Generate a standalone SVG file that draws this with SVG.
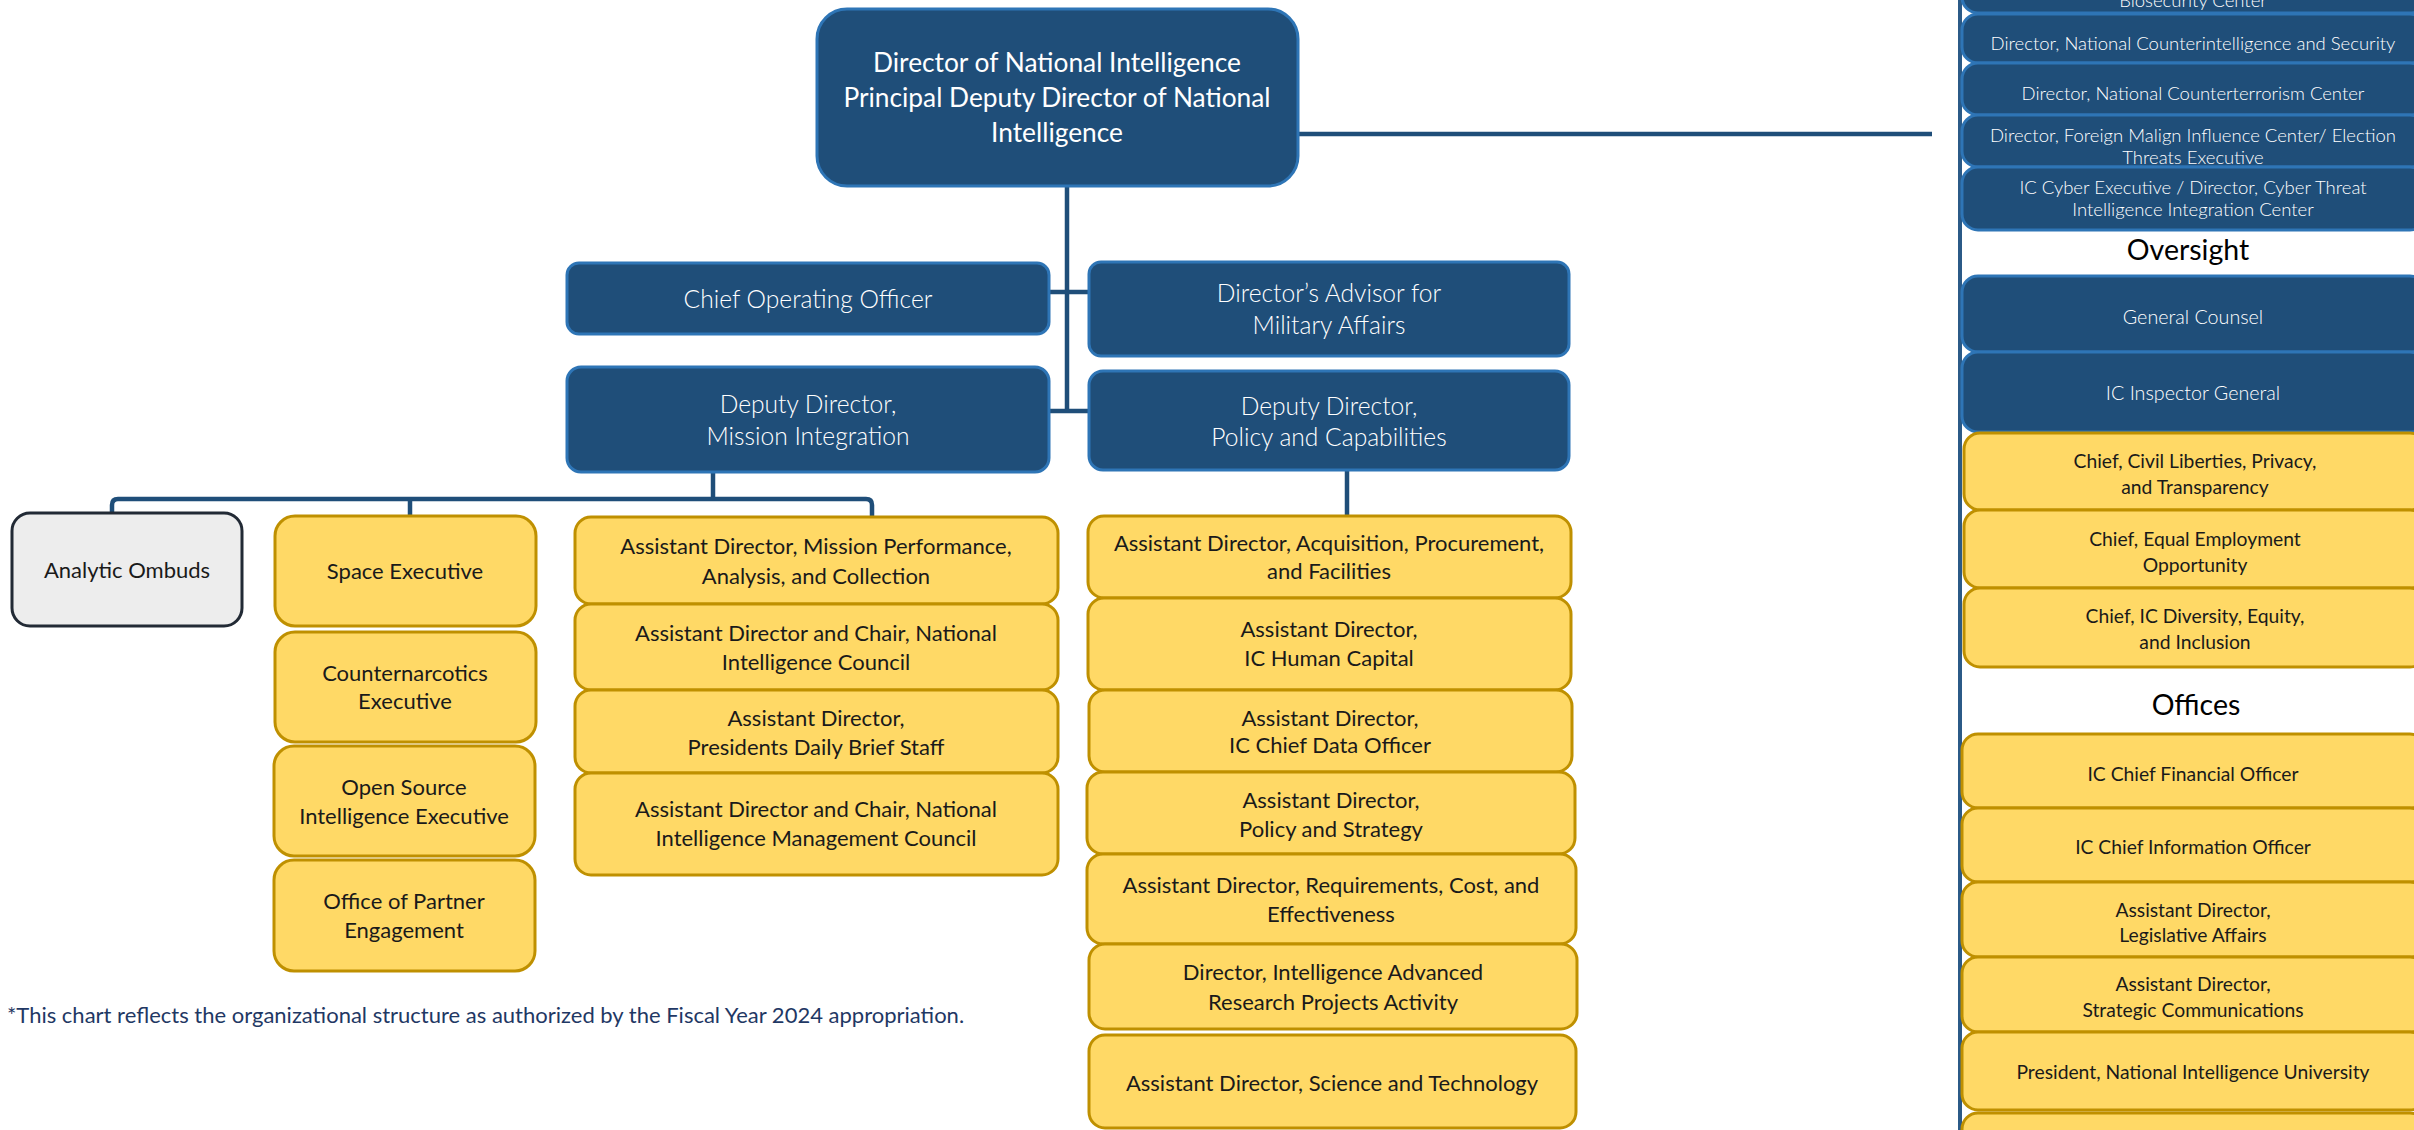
<svg xmlns="http://www.w3.org/2000/svg" width="2414" height="1130" viewBox="0 0 2414 1130">
<style>
text{font-family:Lato,"Liberation Sans",sans-serif;text-anchor:middle}
.b{fill:#1F4E79;stroke:#2E75B6;stroke-width:3}
.y{fill:#FFD966;stroke:#BF9000;stroke-width:3}
.g{fill:#EDEDED;stroke:#222A35;stroke-width:3}
.tw{fill:#FFFFFF;font-weight:300}
.tk{fill:#1A1A1A}
.dni{font-size:26.3px;font-weight:400}
.m{font-size:24.6px}
.l{font-size:22px}
.r{font-size:19.3px}
.rs{font-size:18.5px}
.ro{font-size:19.7px}
.h{font-size:28.5px;fill:#000}
.fn{font-size:22px;fill:#1F3864;text-anchor:start}
.c{fill:none;stroke:#1F4E79;stroke-width:4.5}
</style>
<g id="connectors">
<path class="c" d="M1067,186 V411"/>
<path class="c" d="M1049,292 H1089"/>
<path class="c" d="M1049,411 H1089"/>
<path class="c" d="M1298,134 H1932"/>
<path class="c" d="M713,472 V499"/>
<path class="c" d="M112,514 V505 Q112,499 118,499 H866 Q872,499 872,505 V517"/>
<path class="c" d="M410,499 V516"/>
<path class="c" d="M1347,470 V516"/>
<path d="M1960,0 V1130" fill="none" stroke="#2B5A87" stroke-width="4"/>
</g>
<g id="dni"><rect class="b" x="817" y="9" width="481" height="177" rx="30"/><text class="tw dni"><tspan x="1057" y="72">Director of National Intelligence</tspan><tspan x="1057" y="107">Principal Deputy Director of National</tspan><tspan x="1057" y="142">Intelligence</tspan></text></g>
<g id="coo"><rect class="b" x="567" y="263" width="482" height="71" rx="12"/><text class="tw m" x="808" y="308">Chief Operating Officer</text></g>
<g id="advisor"><rect class="b" x="1089" y="262" width="480" height="94" rx="12"/><text class="tw m"><tspan x="1329" y="302">Director’s Advisor for</tspan><tspan x="1329" y="334">Military Affairs</tspan></text></g>
<g id="dd-mi"><rect class="b" x="567" y="367" width="482" height="105" rx="14"/><text class="tw m"><tspan x="808" y="413">Deputy Director,</tspan><tspan x="808" y="445">Mission Integration</tspan></text></g>
<g id="dd-pc"><rect class="b" x="1089" y="371" width="480" height="99" rx="14"/><text class="tw m"><tspan x="1329" y="415">Deputy Director,</tspan><tspan x="1329" y="446">Policy and Capabilities</tspan></text></g>

<g id="ombuds"><rect class="g" x="12" y="513" width="230" height="113" rx="18"/><text class="tk l" x="127" y="578">Analytic Ombuds</text></g>
<g id="space"><rect class="y" x="275" y="516" width="261" height="110" rx="20"/><text class="tk l" x="405" y="579">Space Executive</text></g>
<g id="cne"><rect class="y" x="275" y="632" width="261" height="110" rx="20"/><text class="tk l"><tspan x="405" y="681">Counternarcotics</tspan><tspan x="405" y="709">Executive</tspan></text></g>
<g id="osint"><rect class="y" x="274" y="746" width="261" height="110" rx="20"/><text class="tk l"><tspan x="404" y="795">Open Source</tspan><tspan x="404" y="824">Intelligence Executive</tspan></text></g>
<g id="ope"><rect class="y" x="274" y="860" width="261" height="111" rx="20"/><text class="tk l"><tspan x="404" y="909">Office of Partner</tspan><tspan x="404" y="938">Engagement</tspan></text></g>

<g id="mpac"><rect class="y" x="575" y="517" width="483" height="87" rx="16"/><text class="tk l"><tspan x="816" y="554">Assistant Director, Mission Performance,</tspan><tspan x="816" y="584">Analysis, and Collection</tspan></text></g>
<g id="nic"><rect class="y" x="575" y="604" width="483" height="86" rx="16"/><text class="tk l"><tspan x="816" y="641">Assistant Director and Chair, National</tspan><tspan x="816" y="670">Intelligence Council</tspan></text></g>
<g id="pdb"><rect class="y" x="575" y="690" width="483" height="83" rx="16"/><text class="tk l"><tspan x="816" y="726">Assistant Director,</tspan><tspan x="816" y="755">Presidents Daily Brief Staff</tspan></text></g>
<g id="nimc"><rect class="y" x="575" y="773" width="483" height="102" rx="16"/><text class="tk l"><tspan x="816" y="817">Assistant Director and Chair, National</tspan><tspan x="816" y="846">Intelligence Management Council</tspan></text></g>

<g id="apf"><rect class="y" x="1088" y="516" width="483" height="82" rx="16"/><text class="tk l"><tspan x="1329" y="551">Assistant Director, Acquisition, Procurement,</tspan><tspan x="1329" y="579">and Facilities</tspan></text></g>
<g id="hc"><rect class="y" x="1088" y="598" width="483" height="92" rx="16"/><text class="tk l"><tspan x="1329" y="637">Assistant Director,</tspan><tspan x="1329" y="666">IC Human Capital</tspan></text></g>
<g id="cdo"><rect class="y" x="1089" y="690" width="483" height="82" rx="16"/><text class="tk l"><tspan x="1330" y="726">Assistant Director,</tspan><tspan x="1330" y="753">IC Chief Data Officer</tspan></text></g>
<g id="ps"><rect class="y" x="1087" y="772" width="488" height="82" rx="16"/><text class="tk l"><tspan x="1331" y="808">Assistant Director,</tspan><tspan x="1331" y="837">Policy and Strategy</tspan></text></g>
<g id="rce"><rect class="y" x="1087" y="854" width="489" height="90" rx="16"/><text class="tk l"><tspan x="1331" y="893">Assistant Director, Requirements, Cost, and</tspan><tspan x="1331" y="922">Effectiveness</tspan></text></g>
<g id="iarpa"><rect class="y" x="1089" y="944" width="488" height="85" rx="16"/><text class="tk l"><tspan x="1333" y="980">Director, Intelligence Advanced</tspan><tspan x="1333" y="1010">Research Projects Activity</tspan></text></g>
<g id="st"><rect class="y" x="1089" y="1035" width="487" height="93" rx="16"/><text class="tk l" x="1332" y="1091">Assistant Director, Science and Technology</text></g>

<g id="biosec"><rect class="b" x="1962" y="-50" width="464" height="63" rx="16"/><text class="tw rs" x="2193" y="7">Biosecurity Center</text></g>
<g id="ncsc"><rect class="b" x="1962" y="14" width="464" height="49" rx="16"/><text class="tw rs" x="2193" y="50">Director, National Counterintelligence and Security</text></g>
<g id="nctc"><rect class="b" x="1962" y="63" width="464" height="52" rx="16"/><text class="tw rs" x="2193" y="100">Director, National Counterterrorism Center</text></g>
<g id="fmic"><rect class="b" x="1962" y="115" width="464" height="52" rx="16"/><text class="tw rs"><tspan x="2193" y="142">Director, Foreign Malign Influence Center/ Election</tspan><tspan x="2193" y="164">Threats Executive</tspan></text></g>
<g id="cyber"><rect class="b" x="1962" y="167" width="464" height="63" rx="16"/><text class="tw rs"><tspan x="2193" y="194">IC Cyber Executive / Director, Cyber Threat</tspan><tspan x="2193" y="216">Intelligence Integration Center</tspan></text></g>
<text id="oversight" class="h" x="2188" y="260">Oversight</text>
<g id="gc"><rect class="b" x="1962" y="276" width="464" height="76" rx="16"/><text class="tw ro" x="2193" y="324">General Counsel</text></g>
<g id="ig"><rect class="b" x="1962" y="352" width="464" height="80" rx="16"/><text class="tw ro" x="2193" y="400">IC Inspector General</text></g>
<g id="clpt"><rect class="y" x="1964" y="433" width="462" height="77" rx="16"/><text class="tk r"><tspan x="2195" y="468">Chief, Civil Liberties, Privacy,</tspan><tspan x="2195" y="494">and Transparency</tspan></text></g>
<g id="eeo"><rect class="y" x="1964" y="510" width="462" height="78" rx="16"/><text class="tk r"><tspan x="2195" y="546">Chief, Equal Employment</tspan><tspan x="2195" y="572">Opportunity</tspan></text></g>
<g id="dei"><rect class="y" x="1964" y="588" width="462" height="79" rx="16"/><text class="tk r"><tspan x="2195" y="623">Chief, IC Diversity, Equity,</tspan><tspan x="2195" y="649">and Inclusion</tspan></text></g>
<text id="offices" class="h" x="2196" y="715">Offices</text>
<g id="cfo"><rect class="y" x="1962" y="734" width="464" height="74" rx="16"/><text class="tk r" x="2193" y="781">IC Chief Financial Officer</text></g>
<g id="cio"><rect class="y" x="1962" y="808" width="464" height="74" rx="16"/><text class="tk r" x="2193" y="854">IC Chief Information Officer</text></g>
<g id="leg"><rect class="y" x="1962" y="882" width="464" height="75" rx="16"/><text class="tk r"><tspan x="2193" y="917">Assistant Director,</tspan><tspan x="2193" y="942">Legislative Affairs</tspan></text></g>
<g id="sc"><rect class="y" x="1962" y="957" width="464" height="75" rx="16"/><text class="tk r"><tspan x="2193" y="991">Assistant Director,</tspan><tspan x="2193" y="1017">Strategic Communications</tspan></text></g>
<g id="niu"><rect class="y" x="1962" y="1032" width="464" height="78" rx="16"/><text class="tk r" x="2193" y="1079">President, National Intelligence University</text></g>
<g id="office-next"><rect class="y" x="1962" y="1113" width="464" height="70" rx="16"/></g>

<text id="footnote" class="fn" x="7" y="1023">*This chart reflects the organizational structure as authorized by the Fiscal Year 2024 appropriation.</text>
</svg>
